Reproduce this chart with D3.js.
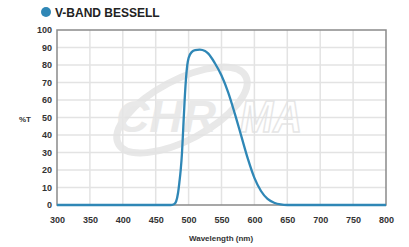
<!DOCTYPE html>
<html lang="en">
  <head>
    <meta charset="UTF-8" />
    <title>V-Band Bessell</title>
    <style>
      body {
        margin: 0;
        background: #fff;
        overflow: hidden;
      }
      svg {
        display: block;
        font-family: "Liberation Sans", Arial, sans-serif;
      }
      .tick text {
        font-size: 9px;
        font-weight: bold;
        fill: #333;
      }
    </style>
  </head>
  <body>
    <svg width="409" height="247"></svg>

    <script src="https://d3js.org/d3.v7.min.js"></script>
    <script>
      // wavelength (nm) and transmission (%T)
      const wavelength = [300, 470, 475, 478, 481, 484, 486, 488, 490, 492, 494, 496, 498, 500, 505, 510, 517, 525, 530, 540, 550, 560, 570, 580, 590, 600, 610, 620, 630, 640, 650, 800];
      const transmission = [0, 0, 0.1, 0.5, 2, 7, 13, 20, 30, 45, 60, 72, 80, 84, 87.5, 88.5, 88.8, 88, 86.5, 81, 74, 64.5, 52.5, 39.5, 26.5, 15.5, 8, 3.5, 1.3, 0.3, 0, 0];
      const xTicks = [300, 350, 400, 450, 500, 550, 600, 650, 700, 750, 800];
      const yTicks = [0, 10, 20, 30, 40, 50, 60, 70, 80, 90, 100];

      const blue = "#2f87b6";
      const svg = d3.select("svg");

      const x = d3.scaleLinear().domain([300, 800]).range([57, 386]);
      const y = d3.scaleLinear().domain([0, 100]).range([205, 30]);

      // title
      svg.append("circle").attr("cx", 46).attr("cy", 12).attr("r", 5).attr("fill", blue);
      svg.append("text")
        .attr("x", 55).attr("y", 16.5)
        .attr("font-size", 12).attr("font-weight", "bold").attr("fill", "#222")
        .text("V-BAND BESSELL");

      // grid
      svg.append("g")
        .selectAll("line.v")
        .data(xTicks.slice(1, -1))
        .join("line")
        .attr("x1", (d) => x(d)).attr("x2", (d) => x(d))
        .attr("y1", y(100)).attr("y2", y(0))
        .attr("stroke", "#e3e3e3").attr("stroke-width", 1.5);
      svg.append("g")
        .selectAll("line.h")
        .data(yTicks.slice(1, -1))
        .join("line")
        .attr("x1", x(300)).attr("x2", x(800))
        .attr("y1", (d) => y(d)).attr("y2", (d) => y(d))
        .attr("stroke", "#e3e3e3").attr("stroke-width", 1.5);

      // watermark
      const wm = svg.append("g").attr("opacity", 0.85);
      wm.append("ellipse")
        .attr("cx", 182).attr("cy", 110).attr("rx", 72).attr("ry", 30)
        .attr("transform", "rotate(-28 182 110)")
        .attr("fill", "none").attr("stroke", "#e4e4e4").attr("stroke-width", 7);
      wm.append("text")
        .attr("x", 116).attr("y", 132)
        .attr("font-size", 44).attr("font-weight", "bold").attr("font-style", "italic")
        .attr("textLength", 100).attr("lengthAdjust", "spacingAndGlyphs")
        .attr("fill", "#e6e6e6")
        .text("CHR");
      wm.append("text")
        .attr("x", 240).attr("y", 132)
        .attr("font-size", 44).attr("font-weight", "bold").attr("font-style", "italic")
        .attr("textLength", 62).attr("lengthAdjust", "spacingAndGlyphs")
        .attr("fill", "none").attr("stroke", "#e2e2e2").attr("stroke-width", 1.5)
        .text("MA");

      // frame
      svg.append("rect")
        .attr("x", x(300)).attr("y", y(100))
        .attr("width", x(800) - x(300)).attr("height", y(0) - y(100))
        .attr("fill", "none").attr("stroke", "#8a8a8a").attr("stroke-width", 1.5);

      // axes (labels only)
      const xAxis = svg.append("g")
        .attr("transform", `translate(0,${y(0)})`)
        .call(d3.axisBottom(x).tickValues(xTicks).tickSize(0).tickPadding(12).tickFormat(d3.format("d")));
      xAxis.select(".domain").remove();

      const yAxis = svg.append("g")
        .attr("transform", `translate(${x(300)},0)`)
        .call(d3.axisLeft(y).tickValues(yTicks).tickSize(0).tickPadding(5).tickFormat(d3.format("d")));
      yAxis.select(".domain").remove();

      svg.append("text")
        .attr("x", 221).attr("y", 241)
        .attr("text-anchor", "middle")
        .attr("font-size", 8).attr("font-weight", "bold").attr("fill", "#333")
        .text("Wavelength (nm)");
      svg.append("text")
        .attr("x", 25).attr("y", 122)
        .attr("text-anchor", "middle")
        .attr("font-size", 8).attr("font-weight", "bold").attr("fill", "#333")
        .text("%T");

      // curve
      const data = wavelength.map((w, i) => ({ w, t: transmission[i] }));
      svg.append("path")
        .datum(data)
        .attr("fill", "none")
        .attr("stroke", blue)
        .attr("stroke-width", 2.3)
        .attr("stroke-linejoin", "round")
        .attr("d", d3.line().x((d) => x(d.w)).y((d) => y(d.t)).curve(d3.curveMonotoneX));
    </script>
  </body>
</html>
